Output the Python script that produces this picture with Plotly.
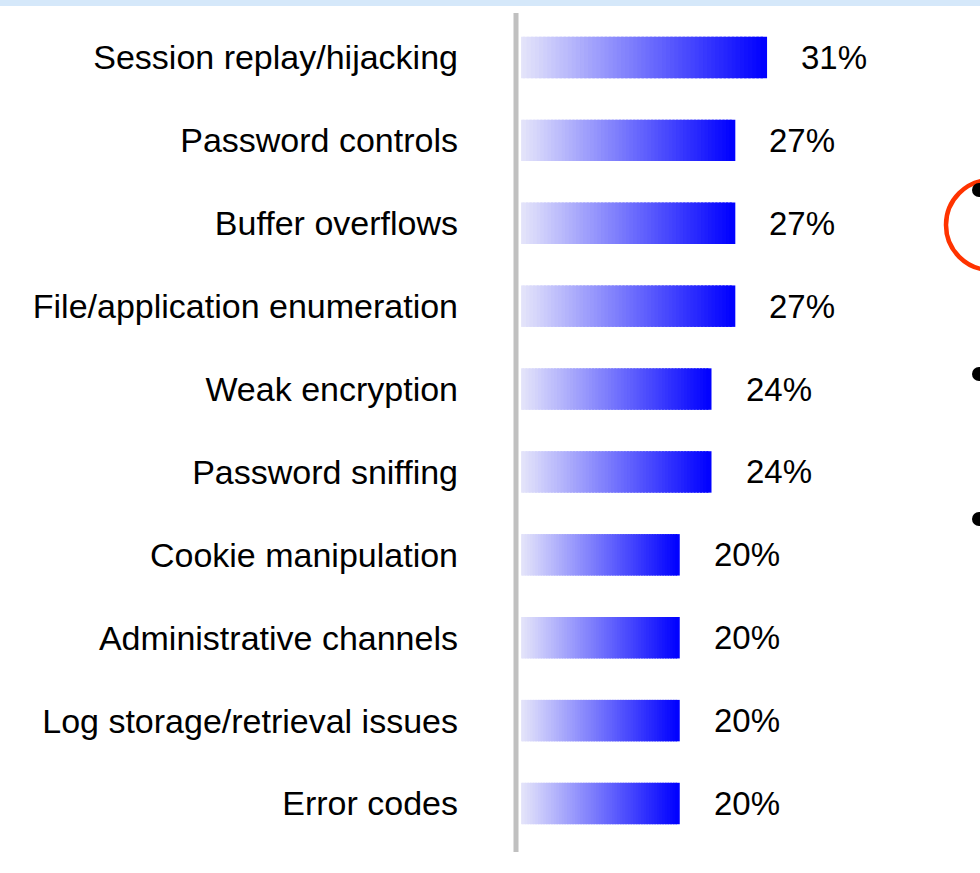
import plotly.graph_objects as go

# ---------------- data ----------------
categories = [
    "Session replay/hijacking",
    "Password controls",
    "Buffer overflows",
    "File/application enumeration",
    "Weak encryption",
    "Password sniffing",
    "Cookie manipulation",
    "Administrative channels",
    "Log storage/retrieval issues",
    "Error codes",
]
values = [31, 27, 27, 27, 24, 24, 20, 20, 20, 20]
value_labels = ["31%", "27%", "27%", "27%", "24%", "24%", "20%", "20%", "20%", "20%"]

# ---------------- helpers (figure pixel -> paper) ----------------
W, H = 980, 873


def px(x):
    return x / W


def py(y):
    return 1 - y / H


FONT = "Liberation Sans, Arial, sans-serif"

fig = go.Figure()

# gradient bars: each bar is split in N stacked segments light -> blue,
# each segment slightly overlapping the previous one to avoid seams
N = 60
c0 = (232, 232, 250)
c1 = (0, 0, 255)
for i in range(N):
    t = (i + 0.5) / N
    col = tuple(round(a + (b - a) * t) for a, b in zip(c0, c1))
    ov = 0 if i == 0 else 0.6
    fig.add_trace(
        go.Bar(
            y=categories,
            x=[v * (1 + ov) / N for v in values],
            base=[v * (i - ov) / N for v in values],
            orientation="h",
            marker=dict(color="rgb(%d,%d,%d)" % col, line=dict(width=0)),
            hoverinfo="skip",
            showlegend=False,
        )
    )

# value labels
for c, v, lab in zip(categories, values, value_labels):
    fig.add_annotation(
        x=v, y=c, text=lab, xanchor="left", yanchor="middle", xshift=32,
        showarrow=False, font=dict(family=FONT, size=33, color="#000000"),
    )

shapes = []
# light blue band at the very top
shapes.append(dict(type="rect", xref="paper", yref="paper", x0=0, x1=1,
                   y0=py(6), y1=1, fillcolor="#D5E8FA", line=dict(width=0),
                   layer="below"))
# grey vertical axis line
shapes.append(dict(type="line", xref="paper", yref="paper", x0=px(516), x1=px(516),
                   y0=py(13), y1=py(852), line=dict(color="#C0C0C0", width=5)))
# red circled mark on the right
shapes.append(dict(type="circle", xref="paper", yref="paper",
                   x0=px(946), x1=px(1036), y0=py(270), y1=py(180),
                   line=dict(color="#FF3300", width=4.5)))
# bullets on the right edge
for yb in (190, 374, 519):
    shapes.append(dict(type="circle", xref="paper", yref="paper",
                       x0=px(972), x1=px(986), y0=py(yb + 7), y1=py(yb - 7),
                       fillcolor="black", line=dict(width=0)))

fig.update_layout(
    width=W, height=H,
    margin=dict(l=0, r=0, t=0, b=0),
    paper_bgcolor="white", plot_bgcolor="white",
    barmode="overlay", bargap=0.5,
    shapes=shapes,
    xaxis=dict(domain=[px(521), px(838.5)], range=[0, 40], visible=False,
               fixedrange=True),
    yaxis=dict(domain=[py(844.95), py(16.05)], categoryorder="array",
               categoryarray=categories, autorange="reversed",
               showgrid=False, zeroline=False, showline=False, ticks="",
               ticklabelstandoff=62,
               tickfont=dict(family=FONT, size=34, color="#000000")),
)

fig.write_html("out.html")
